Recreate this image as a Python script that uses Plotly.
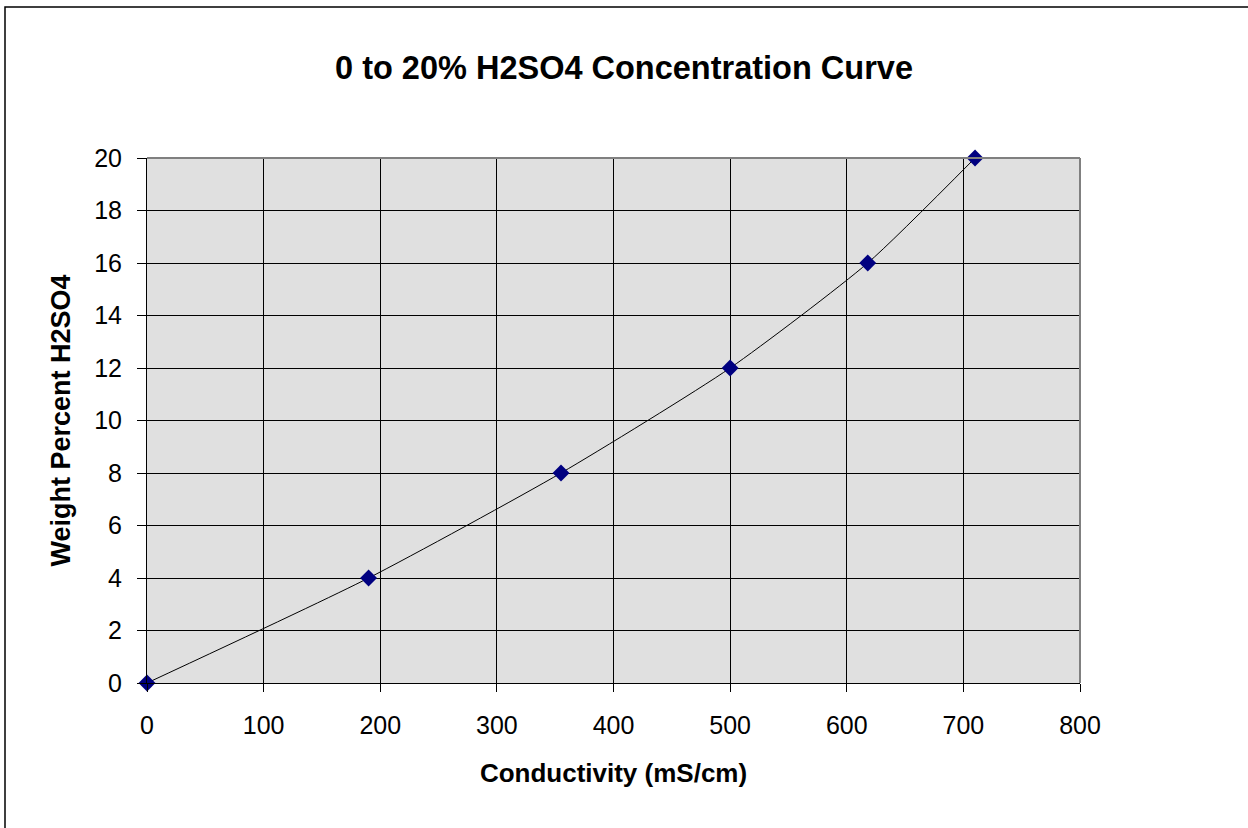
import plotly.graph_objects as go

# Calibration points: conductivity vs. weight percent sulfuric acid
conductivity = [0, 190, 355, 500, 618, 710]
weight_percent = [0, 4, 8, 12, 16, 20]

x_ticks = [0, 100, 200, 300, 400, 500, 600, 700, 800]
y_ticks = [0, 2, 4, 6, 8, 10, 12, 14, 16, 18, 20]

FONT = "Liberation Sans, Arial, sans-serif"

fig = go.Figure()
fig.add_trace(go.Scatter(
    x=conductivity,
    y=weight_percent,
    mode="lines+markers",
    line=dict(color="black", width=1, shape="spline", smoothing=0.6),
    marker=dict(symbol="diamond", size=13, color="#000080"),
    cliponaxis=False,
    showlegend=False,
))

L, R, T, B = 147, 168, 158, 145
W, H = 1248, 828
pw, ph = W - L - R, H - T - B

fig.update_layout(
    width=W, height=H,
    margin=dict(l=L, r=R, t=T, b=B),
    paper_bgcolor="white",
    plot_bgcolor="#e0e0e0",
    font=dict(family=FONT, size=25, color="black"),
    title=dict(
        text="<b>0 to 20% H2SO4 Concentration Curve</b>",
        x=0.5, xanchor="center", xref="container",
        y=1 - 68 / H, yanchor="middle",
        font=dict(size=32.5, family=FONT),
    ),
    xaxis=dict(
        range=[0, 800], tickvals=x_ticks, ticks="outside", ticklen=8,
        tickcolor="black", showgrid=True, gridcolor="black", gridwidth=1,
        showline=True, linecolor="black", mirror=False, zeroline=False,
        ticklabelstandoff=12,
        title=dict(text="<b>Conductivity (mS/cm)</b>", font=dict(size=26), standoff=25),
        tickfont=dict(size=25),
    ),
    yaxis=dict(
        range=[0, 20], tickvals=y_ticks, ticks="outside", ticklen=9,
        tickcolor="black", showgrid=True, gridcolor="black", gridwidth=1,
        showline=True, linecolor="black", mirror=False, zeroline=False,
        ticklabelstandoff=10,
        title=dict(text="<b>Weight Percent H2SO4</b>", font=dict(size=27), standoff=15),
        tickfont=dict(size=25),
    ),
    shapes=[
        # gray outline on the top and right of the plot area
        dict(type="line", xref="paper", yref="paper", x0=0, x1=1, y0=1, y1=1,
             line=dict(color="#808080", width=2)),
        dict(type="line", xref="paper", yref="paper", x0=1, x1=1, y0=0, y1=1,
             line=dict(color="#808080", width=2)),
        # chart frame
        dict(type="rect", xref="paper", yref="paper",
             x0=(5 - L) / pw, x1=(W + 10 - L) / pw,
             y0=-(B + 10) / ph, y1=1 + (T - 7) / ph,
             line=dict(color="black", width=1.5), layer="below"),
    ],
)

fig.write_html("out.html")
